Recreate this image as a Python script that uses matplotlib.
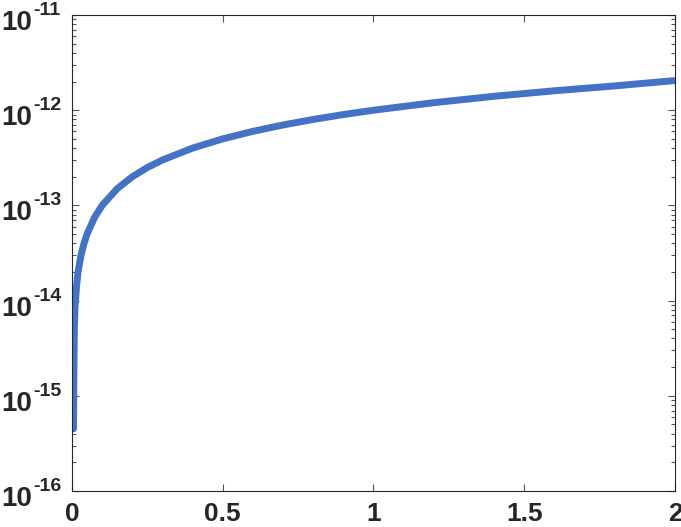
import numpy as np
import matplotlib.pyplot as plt
import matplotlib.transforms as mtransforms
from matplotlib.ticker import FixedLocator, LogLocator, NullFormatter

plt.rcParams['font.family'] = ['Liberation Sans', 'DejaVu Sans']

# curve values
x = [0.0, 0.002, 0.005, 0.0065, 0.008, 0.01, 0.015, 0.02, 0.03,
     0.04, 0.05, 0.075, 0.1, 0.15, 0.2, 0.25, 0.3, 0.4, 0.5, 0.6, 0.7, 0.8,
     0.9, 1.0, 1.2, 1.4, 1.6, 1.8, 2.0]
y = [3.8e-15, 2.5e-15, 4.5e-16, 2.0e-15, 5.5e-15, 8.5e-15, 1.4e-14, 2.0e-14, 3.0e-14,
     4.0e-14, 5.0e-14, 7.5e-14, 1.0e-13, 1.5e-13,
     2.0e-13, 2.5e-13, 3.0e-13, 4.0e-13, 5.0e-13, 6.0e-13, 7.0e-13, 8.0e-13,
     9.0e-13, 1.0e-12, 1.2e-12, 1.4e-12, 1.6e-12, 1.8e-12, 2.05e-12]

xticks = [0, 0.5, 1, 1.5, 2]
xticklabels = ['0', '0.5', '1', '1.5', '2']
ydecades = [-16, -15, -14, -13, -12, -11]

fig = plt.figure(figsize=(6.81, 5.27), dpi=100)
ax = fig.add_axes([0.1057, 0.0683, 0.8855, 0.9032])

ax.plot(x, y, color='#4472c4', lw=5, solid_capstyle='butt')
ax.set_yscale('log')
ax.set_xlim(0, 2)
ax.set_ylim(1e-16, 1e-11)

ax.xaxis.set_major_locator(FixedLocator(xticks))
ax.set_xticklabels(xticklabels, fontweight='bold')
ax.yaxis.set_major_locator(FixedLocator([10.0 ** d for d in ydecades]))
ax.yaxis.set_major_formatter(NullFormatter())
ax.yaxis.set_minor_locator(LogLocator(base=10, subs=np.arange(2, 10)))
ax.yaxis.set_minor_formatter(NullFormatter())

# y labels drawn as "10" plus a raised exponent, like the reference
trans = mtransforms.blended_transform_factory(fig.transFigure, ax.transData)
base_tr = mtransforms.offset_copy(trans, fig=fig, x=0, y=-15, units='dots')
for d in ydecades:
    ax.text(1 / 681, 10.0 ** d, '10', transform=base_tr, fontsize=20,
            fontweight='bold', color='#262626', ha='left', va='baseline', clip_on=False)
    ax.text(33 / 681, 10.0 ** d, '-%d' % abs(d), transform=trans, fontsize=14,
            fontweight='bold', color='#262626', ha='left', va='baseline', clip_on=False)

for s in ax.spines.values():
    s.set_color('#262626')
    s.set_linewidth(0.8)
ax.tick_params(which='both', direction='in', top=True, right=True, color='#555555', width=0.8)
ax.tick_params(which='major', length=5, labelsize=19, labelcolor='#262626')
ax.tick_params(which='minor', length=3)
ax.tick_params(axis='x', pad=8)

fig.savefig('out.png', dpi=100)
